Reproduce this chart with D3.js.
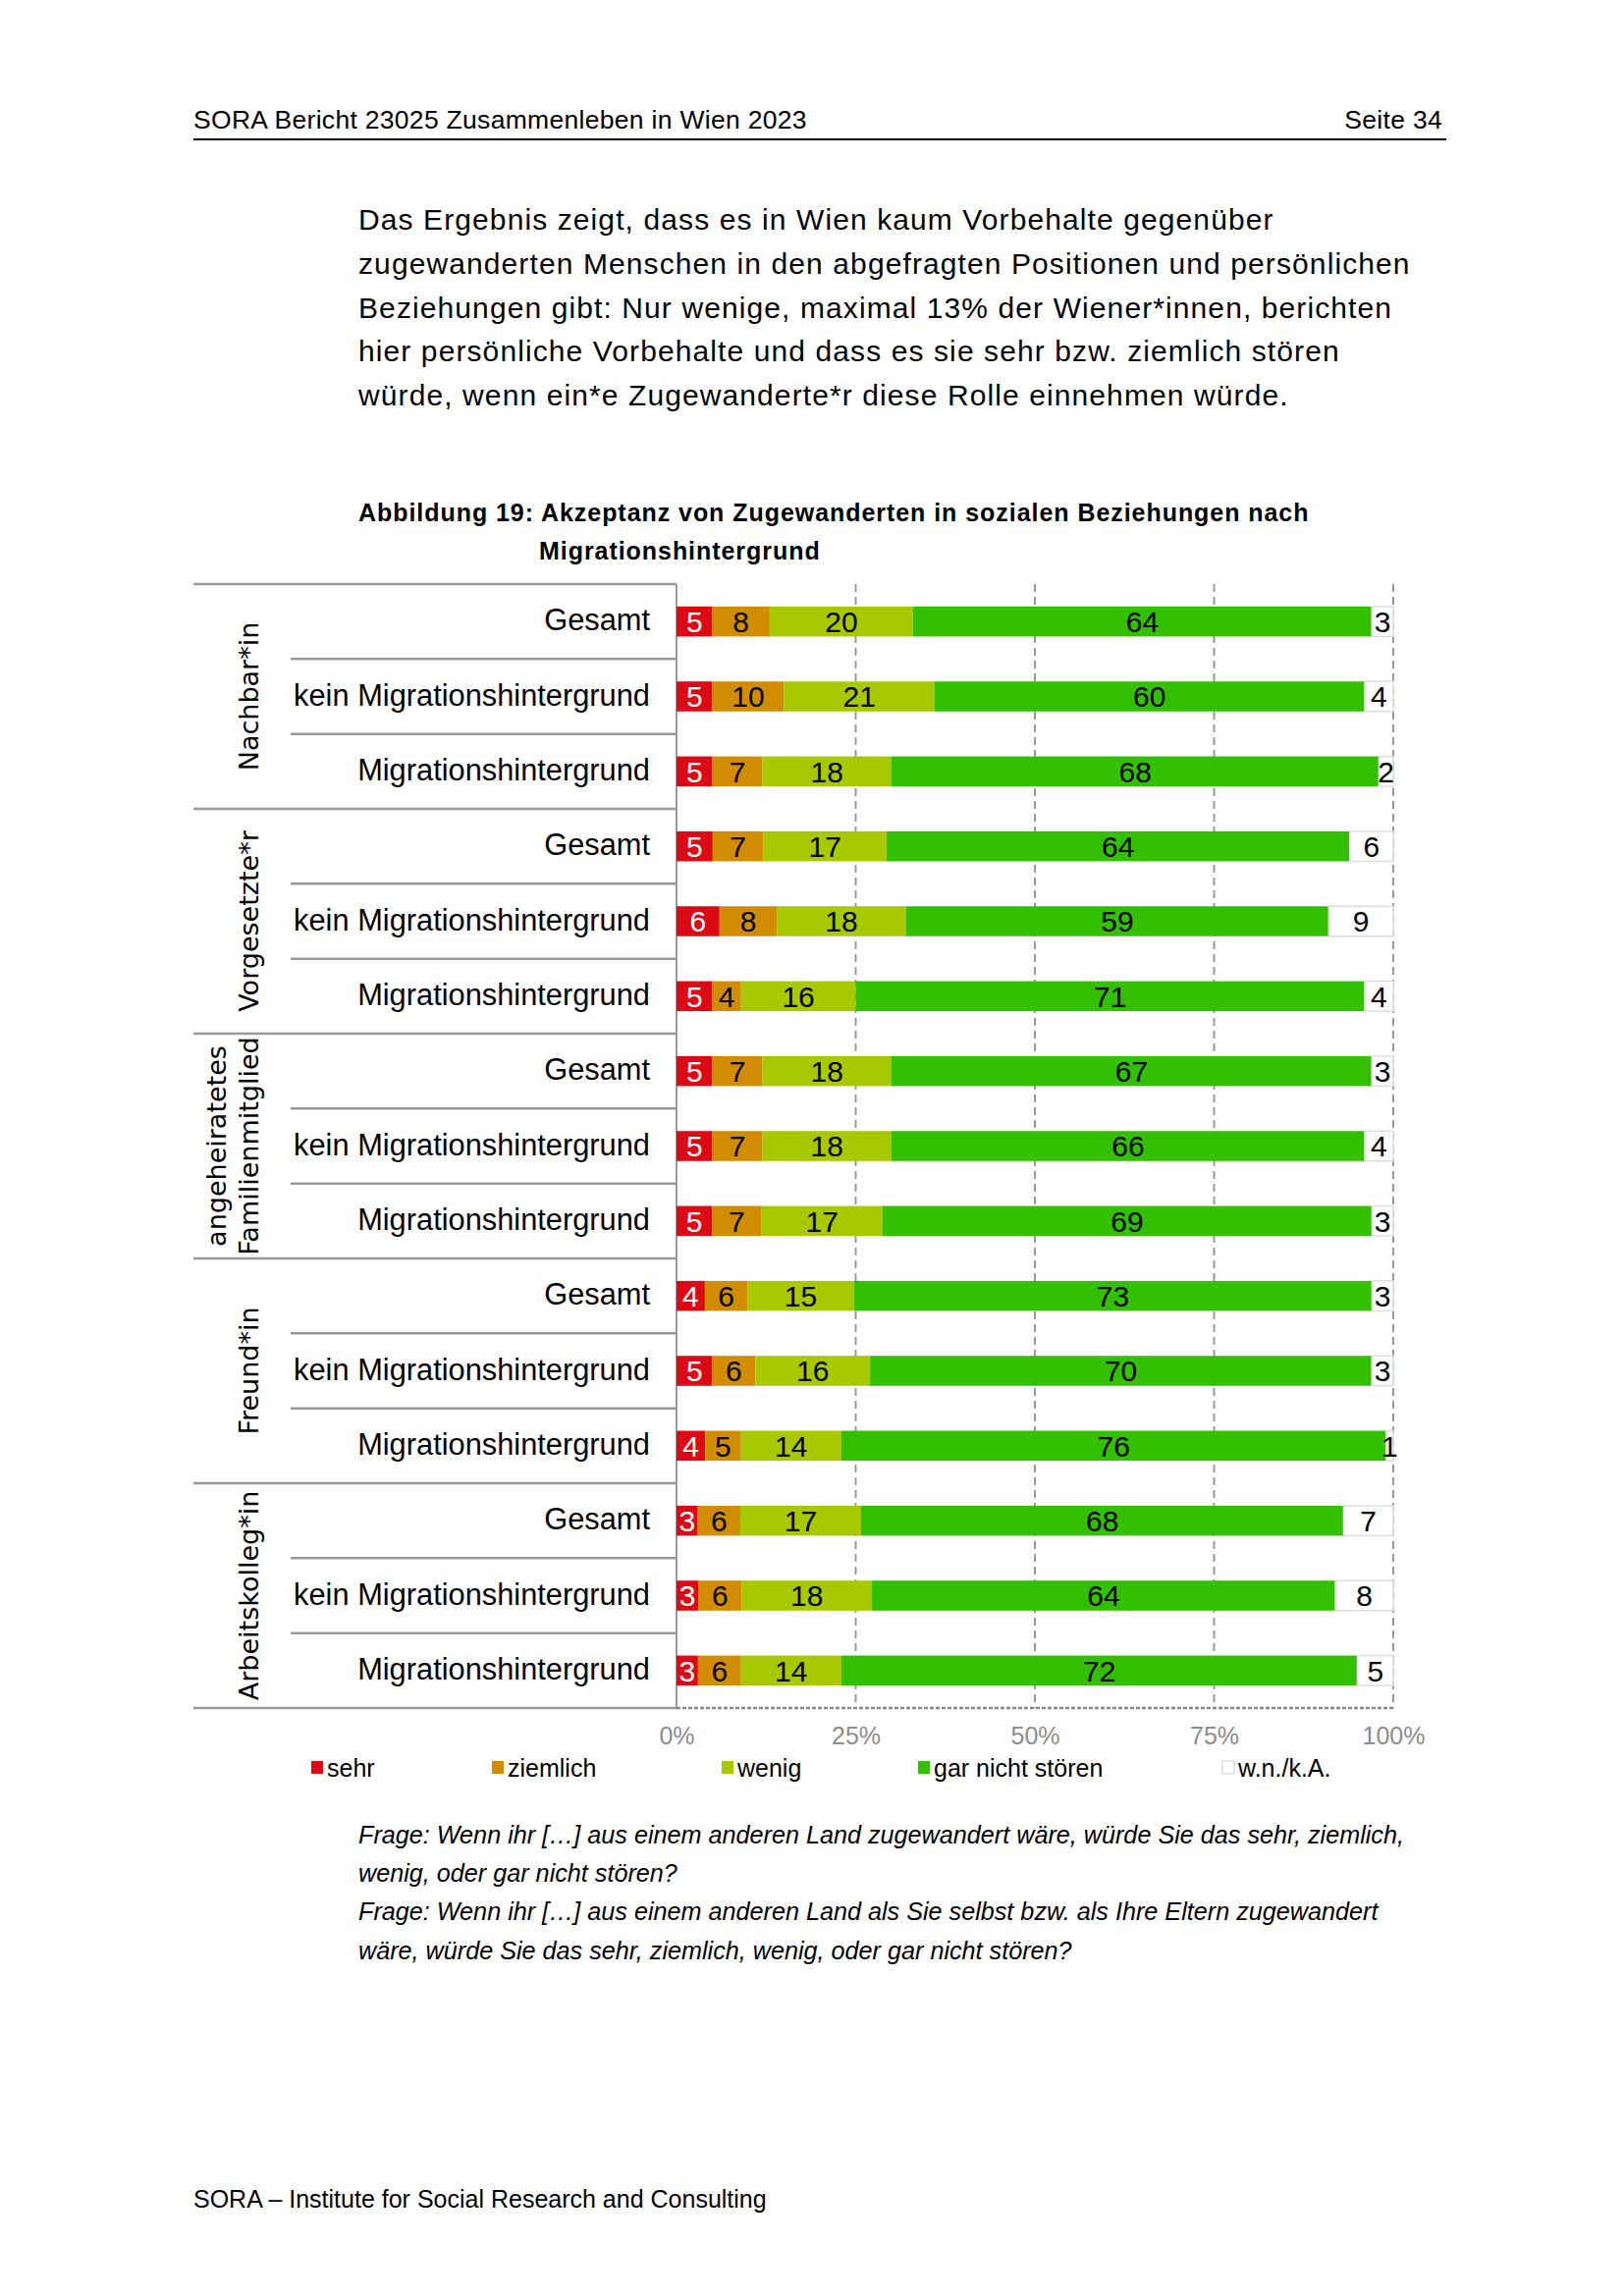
<!DOCTYPE html>
<html>
<head>
<meta charset="utf-8">
<script src="https://cdn.jsdelivr.net/npm/d3@7"></script>
<style>
  body { margin: 0; background: #fff; }
  text { font-family: "Liberation Sans", Arial, sans-serif; }
</style>
</head>
<body>
<svg id="page" width="1654" height="2339"></svg>
<script>
// data
let groups = ['Nachbar*in', 'Vorgesetzte*r', 'angeheiratetes Familienmitglied', 'Freund*in', 'Arbeitskolleg*in'];
let subgroups = ['Gesamt', 'kein Migrationshintergrund', 'Migrationshintergrund'];
let answers = ['sehr', 'ziemlich', 'wenig', 'gar nicht stören', 'w.n./k.A.'];
let answerColors = ['#dc0a14', '#d28c00', '#a8c800', '#33c000', '#ffffff'];

let sehr     = [5, 5, 5,  5, 6, 5,  5, 5, 5,  4, 5, 4,  3, 3, 3];
let ziemlich = [8, 10, 7, 7, 8, 4,  7, 7, 7,  6, 6, 5,  6, 6, 6];
let wenig    = [20, 21, 18, 17, 18, 16, 18, 18, 17, 15, 16, 14, 17, 18, 14];
let garNicht = [64, 60, 68, 64, 59, 71, 67, 66, 69, 73, 70, 76, 68, 64, 72];
let wnka     = [3, 4, 2, 6, 9, 4, 3, 4, 3, 3, 3, 1, 7, 8, 5];

let tickValues = [0, 0.25, 0.5, 0.75, 1];

let svg = d3.select('#page');

// rows built from the arrays
let rows = [];
groups.forEach((g, gi) => {
  subgroups.forEach((s, si) => {
    let i = gi * 3 + si;
    rows.push({
      id: g + '|' + s, group: g, sub: s, first: si === 0,
      'sehr': sehr[i], 'ziemlich': ziemlich[i], 'wenig': wenig[i],
      'gar nicht stören': garNicht[i], 'w.n./k.A.': wnka[i]
    });
  });
});

let color = d3.scaleOrdinal().domain(answers).range(answerColors);

let x = d3.scaleLinear().domain([0, 1]).range([689, 1419]);
let y = d3.scaleBand()
  .domain(rows.map(r => r.id))
  .range([595, 1740])
  .paddingInner(0.6)
  .paddingOuter(0.3);

let step = y.step();
let rowTop = (r) => y(r.id) - step * 0.3;

// ---- page header / text ----
svg.append('text').attr('x', 197).attr('y', 131)
  .style('font-size', '26.5px').style('letter-spacing', '0.3px')
  .text('SORA Bericht 23025 Zusammenleben in Wien 2023');
svg.append('text').attr('x', 1469).attr('y', 131).attr('text-anchor', 'end')
  .style('font-size', '26.5px').style('letter-spacing', '0.3px').text('Seite 34');
svg.append('line').attr('x1', 197).attr('x2', 1473).attr('y1', 142).attr('y2', 142)
  .attr('stroke', '#000').attr('stroke-width', 2);

let paragraph = [
  'Das Ergebnis zeigt, dass es in Wien kaum Vorbehalte gegenüber',
  'zugewanderten Menschen in den abgefragten Positionen und persönlichen',
  'Beziehungen gibt: Nur wenige, maximal 13% der Wiener*innen, berichten',
  'hier persönliche Vorbehalte und dass es sie sehr bzw. ziemlich stören',
  'würde, wenn ein*e Zugewanderte*r diese Rolle einnehmen würde.'
];
svg.selectAll('.para').data(paragraph).enter().append('text')
  .attr('class', 'para')
  .attr('x', 365)
  .attr('y', (d, i) => 234 + i * 44.8)
  .style('font-size', '30px')
  .style('letter-spacing', '1.1px')
  .text(d => d);

svg.append('text').attr('x', 365).attr('y', 531)
  .style('font-size', '25px').style('font-weight', 'bold').style('letter-spacing', '0.95px')
  .text('Abbildung 19: Akzeptanz von Zugewanderten in sozialen Beziehungen nach');
svg.append('text').attr('x', 549).attr('y', 570)
  .style('font-size', '25px').style('font-weight', 'bold').style('letter-spacing', '0.95px')
  .text('Migrationshintergrund');

// ---- chart ----
let chart = svg.append('g');

// gridlines
chart.selectAll('.grid').data(tickValues.slice(1)).enter().append('line')
  .attr('x1', d => x(d)).attr('x2', d => x(d))
  .attr('y1', 595).attr('y2', 1740)
  .attr('stroke', '#999').attr('stroke-width', 2).attr('stroke-dasharray', '8,5');

// row separators on the label side
chart.selectAll('.sep').data(rows).enter().append('line')
  .attr('x1', r => r.first ? 197 : 296)
  .attr('x2', x(0))
  .attr('y1', r => rowTop(r)).attr('y2', r => rowTop(r))
  .attr('stroke', '#999').attr('stroke-width', 2.5);
chart.append('line')
  .attr('x1', 197).attr('x2', x(0))
  .attr('y1', 1740).attr('y2', 1740)
  .attr('stroke', '#999').attr('stroke-width', 2.5);

// left axis line
chart.append('line')
  .attr('x1', x(0)).attr('x2', x(0)).attr('y1', 595).attr('y2', 1741)
  .attr('stroke', '#999').attr('stroke-width', 2);

// bottom axis (dotted)
chart.append('line')
  .attr('x1', x(0)).attr('x2', x(1)).attr('y1', 1740).attr('y2', 1740)
  .attr('stroke', '#888').attr('stroke-width', 2.5).attr('stroke-dasharray', '4,2');

let stacked = d3.stack().keys(answers).offset(d3.stackOffsetExpand)(rows);

let layer = chart.selectAll('.layer').data(stacked).enter().append('g')
  .attr('class', 'layer')
  .attr('fill', d => color(d.key));

layer.selectAll('rect').data(d => d.map(p => Object.assign(p, { key: d.key }))).enter().append('rect')
  .attr('x', p => x(p[0]))
  .attr('y', p => y(p.data.id))
  .attr('width', p => x(p[1]) - x(p[0]))
  .attr('height', y.bandwidth())
  .attr('stroke', p => p.key === 'w.n./k.A.' ? '#ddd' : 'none')
  .attr('stroke-width', 1.5);

layer.selectAll('text').data(d => d).enter().append('text')
  .attr('x', p => (x(p[0]) + x(p[1])) / 2)
  .attr('y', p => y(p.data.id) + y.bandwidth() / 2)
  .attr('dy', '0.36em')
  .attr('text-anchor', 'middle')
  .attr('fill', p => p.key === 'sehr' ? '#fff' : '#000')
  .style('font-size', '30px')
  .text(p => p.data[p.key]);

// category labels
chart.selectAll('.cat').data(rows).enter().append('text')
  .attr('x', 662)
  .attr('y', r => y(r.id) + y.bandwidth() / 2)
  .attr('dy', '0.3em')
  .attr('text-anchor', 'end')
  .style('font-size', '30.8px')
  .text(r => r.sub);

// group labels (rotated)
groups.forEach((g, gi) => {
  let top = 595 + gi * 3 * step;
  let cy = top + 1.5 * step;
  let lines = g === 'angeheiratetes Familienmitglied' ? ['angeheiratetes', 'Familienmitglied'] : [g];
  let t = chart.append('text')
    .attr('transform', 'translate(253,' + cy + ') rotate(-90)')
    .attr('text-anchor', 'middle')
    .style('font-family', '"DejaVu Sans", Verdana, sans-serif')
    .style('font-size', '27px');
  lines.forEach((l, li) => {
    t.append('tspan').attr('x', 0)
      .attr('y', (li - (lines.length - 1)) * 33 + 10)
      .text(l);
  });
});

// x axis tick labels
let axis = d3.axisBottom(x).tickValues(tickValues).tickFormat(d3.format('.0%')).tickSize(0).tickPadding(0);
let axisG = chart.append('g').attr('transform', 'translate(0,1777)').call(axis);
axisG.select('.domain').remove();
axisG.selectAll('text')
  .attr('dy', 0)
  .style('font-family', '"Liberation Sans", Arial, sans-serif')
  .style('font-size', '25px')
  .attr('fill', '#8c8c8c');

// legend
let legendX = [317, 501, 735, 935, 1245];
let legend = chart.selectAll('.legend').data(answers).enter().append('g')
  .attr('transform', (d, i) => 'translate(' + legendX[i] + ',1801)');
legend.append('rect')
  .attr('x', 0).attr('y', -7).attr('width', 12).attr('height', 13)
  .attr('fill', d => color(d))
  .attr('stroke', d => d === 'w.n./k.A.' ? '#ccc' : 'none');
legend.append('text')
  .attr('x', 16).attr('y', 0).attr('dy', '0.35em')
  .style('font-size', '25px')
  .text(d => d);

// footnotes
let notes = [
  'Frage: Wenn ihr […] aus einem anderen Land zugewandert wäre, würde Sie das sehr, ziemlich,',
  'wenig, oder gar nicht stören?',
  'Frage: Wenn ihr […] aus einem anderen Land als Sie selbst bzw. als Ihre Eltern zugewandert',
  'wäre, würde Sie das sehr, ziemlich, wenig, oder gar nicht stören?'
];
svg.selectAll('.note').data(notes).enter().append('text')
  .attr('x', 365)
  .attr('y', (d, i) => 1878 + i * 39.2)
  .style('font-size', '25.2px')
  .style('font-style', 'italic')
  .text(d => d);

svg.append('text').attr('x', 197).attr('y', 2249)
  .style('font-size', '25px')
  .text('SORA – Institute for Social Research and Consulting');
</script>
</body>
</html>
